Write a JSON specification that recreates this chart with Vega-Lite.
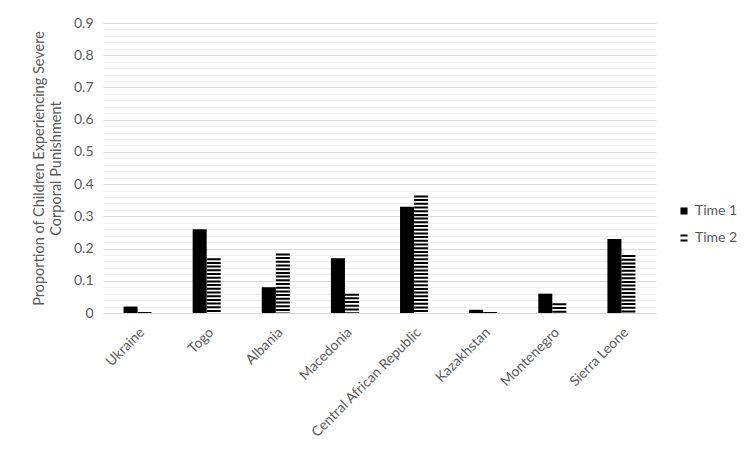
{
  "$schema": "https://vega.github.io/schema/vega-lite/v6.json",
  "width": 553,
  "height": 290,
  "autosize": {"type": "none"},
  "padding": {"left": 103, "top": 23, "right": 98, "bottom": 139},
  "background": "white",
  "config": {
    "view": {"stroke": null},
    "font": "Lato",
    "axis": {"labelFont": "Lato", "titleFont": "Lato", "labelColor": "#595959", "titleColor": "#595959"},
    "legend": {"labelFont": "Lato", "labelColor": "#595959"}
  },
  "data": {
    "values": [
      {"country": "Ukraine", "time": "Time 1", "value": 0.02},
      {"country": "Ukraine", "time": "Time 2", "value": 0.003},
      {"country": "Togo", "time": "Time 1", "value": 0.26},
      {"country": "Togo", "time": "Time 2", "value": 0.17},
      {"country": "Albania", "time": "Time 1", "value": 0.08},
      {"country": "Albania", "time": "Time 2", "value": 0.185},
      {"country": "Macedonia", "time": "Time 1", "value": 0.17},
      {"country": "Macedonia", "time": "Time 2", "value": 0.06},
      {"country": "Central African Republic", "time": "Time 1", "value": 0.33},
      {"country": "Central African Republic", "time": "Time 2", "value": 0.365},
      {"country": "Kazakhstan", "time": "Time 1", "value": 0.01},
      {"country": "Kazakhstan", "time": "Time 2", "value": 0.003},
      {"country": "Montenegro", "time": "Time 1", "value": 0.06},
      {"country": "Montenegro", "time": "Time 2", "value": 0.03},
      {"country": "Sierra Leone", "time": "Time 1", "value": 0.23},
      {"country": "Sierra Leone", "time": "Time 2", "value": 0.18}
    ]
  },
  "encoding": {
    "x": {
      "field": "country",
      "type": "nominal",
      "sort": null,
      "scale": {"paddingInner": 0.594, "paddingOuter": 0.297},
      "axis": {
        "title": null,
        "labelAngle": -45,
        "labelFontSize": 14,
        "labelPadding": 12,
        "ticks": false,
        "domain": true,
        "domainColor": "#d9d9d9",
        "grid": false
      }
    },
    "xOffset": {"field": "time", "type": "nominal", "scale": {"domain": ["Time 1", "Time 2"], "paddingInner": 0, "paddingOuter": 0}},
    "y": {
      "field": "value",
      "type": "quantitative",
      "scale": {"domain": [0, 0.9], "nice": false},
      "axis": {
        "title": ["Proportion of Children Experiencing Severe", "Corporal Punishment"],
        "titleFontSize": 14.5,
        "titleFontWeight": "normal",
        "titleLineHeight": 17,
        "titlePadding": 10,
        "labelFontSize": 14,
        "labelPadding": 10,
        "format": ".1~f",
        "values": [0, 0.02, 0.04, 0.06, 0.08, 0.1, 0.12, 0.14, 0.16, 0.18, 0.2, 0.22, 0.24, 0.26, 0.28, 0.3, 0.32, 0.34, 0.36, 0.38, 0.4, 0.42, 0.44, 0.46, 0.48, 0.5, 0.52, 0.54, 0.56, 0.58, 0.6, 0.62, 0.64, 0.66, 0.68, 0.7, 0.72, 0.74, 0.76, 0.78, 0.8, 0.82, 0.84, 0.86, 0.88, 0.9],
        "labelExpr": "abs(round(datum.value*10) - datum.value*10) < 0.000001 ? datum.label : ''",
        "gridColor": {"condition": {"test": "abs(round(datum.value*10) - datum.value*10) < 0.000001", "value": "#d9d9d9"}, "value": "#f0f0f0"},
        "ticks": false,
        "domain": false,
        "labelOverlap": false
      }
    }
  },
  "layer": [
    {
      "transform": [{"filter": "datum.time === 'Time 1'"}],
      "mark": {"type": "bar", "color": "black"}
    },
    {
      "transform": [{"filter": "datum.time === 'Time 2'"}],
      "mark": {"type": "rule", "color": "black", "strokeWidth": 14, "strokeDash": [2, 1.7], "strokeCap": "butt"},
      "encoding": {"y2": {"datum": 0}}
    },
    {
      "mark": {"type": "point", "filled": true, "opacity": 0},
      "encoding": {
        "shape": {
          "field": "time",
          "type": "nominal",
          "scale": {"domain": ["Time 1", "Time 2"], "range": ["square", "M-1,-1H1V-0.4H-1Z M-1,0.4H1V1H-1Z"]},
          "legend": {
            "title": null,
            "orient": "none",
            "legendX": 574,
            "legendY": 181,
            "symbolSize": 50,
            "symbolOpacity": 1,
            "symbolFillColor": "black",
            "symbolStrokeWidth": 0,
            "labelFontSize": 14,
            "rowPadding": 13,
            "labelOffset": 4
          }
        },
        "color": {"value": "black"}
      }
    }
  ]
}
